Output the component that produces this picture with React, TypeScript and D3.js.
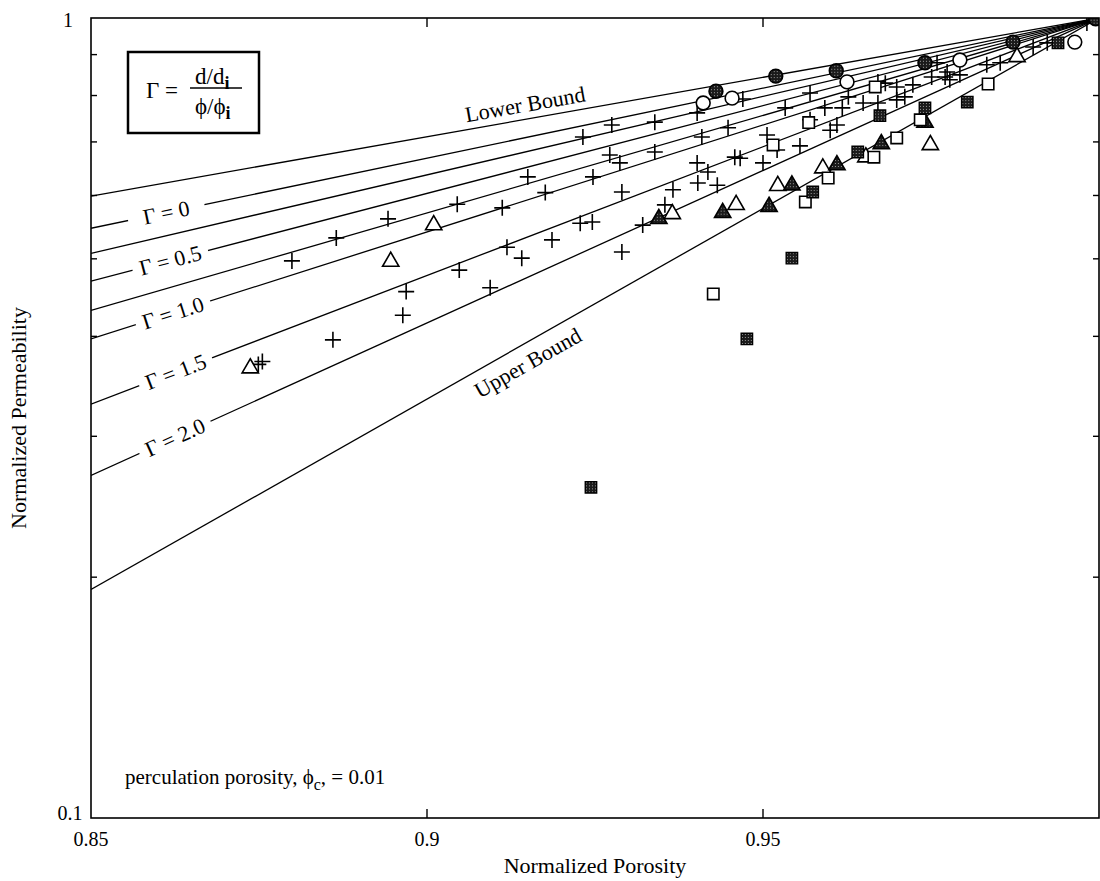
import * as d3 from "d3";

// axis ticks
const porosityTicks = [0.85, 0.9, 0.95];
const permMinorTicks = [0.2, 0.3, 0.4, 0.5, 0.6, 0.7, 0.8, 0.9];

// model lines: value at porosity 0.85, all meeting at (1, 1)
const curveNames = ["Lower Bound", "Γ = 0", "", "Γ = 0.5", "", "Γ = 1.0", "Γ = 1.5", "Γ = 2.0", "Upper Bound"];
const curveStartK = [0.599, 0.546, 0.508, 0.469, 0.431, 0.397, 0.329, 0.268, 0.193];
const gammaLabelPhi = [0, 0.8612, 0, 0.8618, 0, 0.8622, 0.8626, 0.8625, 0];

// measured points [porosity, permeability]
const plusPts: [number, number][] = [
  [0.8749, 0.369], [0.8799, 0.497], [0.886, 0.396], [0.8865, 0.531], [0.8942, 0.561],
  [0.8969, 0.455], [0.8964, 0.425], [0.9045, 0.585], [0.9048, 0.484], [0.9094, 0.46],
  [0.9112, 0.579], [0.9119, 0.517], [0.9141, 0.501], [0.915, 0.633], [0.9176, 0.605],
  [0.9186, 0.528], [0.9228, 0.554], [0.9246, 0.556], [0.9232, 0.71], [0.9247, 0.633],
  [0.9272, 0.674], [0.9275, 0.735], [0.9287, 0.659], [0.929, 0.606], [0.929, 0.51],
  [0.9321, 0.551], [0.9339, 0.741], [0.9339, 0.68], [0.9354, 0.584], [0.9366, 0.61],
  [0.9402, 0.761], [0.9402, 0.659], [0.9403, 0.622], [0.9409, 0.71], [0.9418, 0.642],
  [0.9432, 0.618], [0.9448, 0.729], [0.9458, 0.67], [0.947, 0.792], [0.9466, 0.668],
  [0.95, 0.659], [0.9506, 0.714], [0.9521, 0.684], [0.9533, 0.772], [0.9555, 0.692],
  [0.957, 0.806], [0.957, 0.746], [0.9592, 0.772], [0.96, 0.724], [0.961, 0.735],
  [0.9618, 0.772], [0.9627, 0.797], [0.9649, 0.783], [0.9671, 0.832], [0.9671, 0.783],
  [0.9682, 0.829], [0.9699, 0.82], [0.9699, 0.79], [0.9711, 0.797], [0.9723, 0.825],
  [0.9751, 0.844], [0.9759, 0.879], [0.9771, 0.844], [0.9774, 0.856], [0.9778, 0.837],
  [0.9793, 0.849], [0.9833, 0.874], [0.9853, 0.879], [0.9902, 0.92], [0.9923, 0.931],
  [0.9982, 0.986], [0.8755, 0.372],
];
const circleOpen: [number, number][] = [
  [0.9411, 0.783], [0.9454, 0.794], [0.9625, 0.832], [0.9793, 0.886], [0.9964, 0.933],
];
const circleFilled: [number, number][] = [
  [0.943, 0.81], [0.9519, 0.846], [0.9609, 0.859], [0.9741, 0.879], [0.9872, 0.933], [0.9995, 0.998],
];
const triOpen: [number, number][] = [
  [0.8737, 0.365], [0.8946, 0.496], [0.901, 0.551], [0.9365, 0.569], [0.946, 0.584],
  [0.9522, 0.617], [0.9589, 0.649], [0.9653, 0.67], [0.9749, 0.694], [0.9878, 0.894],
];
const triFilled: [number, number][] = [
  [0.9345, 0.561], [0.944, 0.571], [0.9509, 0.581], [0.9543, 0.618], [0.961, 0.655],
  [0.9676, 0.696], [0.9741, 0.74],
];
const squareOpen: [number, number][] = [
  [0.9426, 0.452], [0.9563, 0.589], [0.9568, 0.74], [0.9515, 0.694], [0.9597, 0.631],
  [0.9665, 0.67], [0.9667, 0.82], [0.9699, 0.708], [0.9734, 0.746], [0.9835, 0.827],
];
const squareFilled: [number, number][] = [
  [0.9244, 0.259], [0.9476, 0.397], [0.9543, 0.501], [0.9574, 0.606], [0.9641, 0.68],
  [0.9674, 0.755], [0.9741, 0.772], [0.9804, 0.785], [0.9939, 0.931],
];

const W = 1100;
const H = 881;
const FONT = "'Liberation Serif', 'Times New Roman', serif";

export default function App() {
  const x = d3.scaleLinear().domain([0.85, 1.0]).range([91, 1099]);
  const y = d3.scaleLog().domain([0.1, 1]).range([818, 18]);
  const [x0, x1] = x.range();
  const [yb, yt] = y.range();

  const tri = d3.symbol(d3.symbolTriangle, 115)()!;
  const circ = d3.symbol(d3.symbolCircle, 150)()!;
  const sq = d3.symbol(d3.symbolSquare, 130)()!;
  const plus = "M-8,0H8M0,-8V8";

  const curves = curveStartK.map((k0, i) => {
    const ya = y(k0);
    const ye = y(1);
    const ang = (Math.atan2(ye - ya, x1 - x0) * 180) / Math.PI;
    return { i, ya, ye, ang };
  });
  const onLine = (c: { ya: number; ye: number }, px: number) =>
    c.ya + ((px - x0) / (x1 - x0)) * (c.ye - c.ya);

  const lower = curves[0];
  const upper = curves[curves.length - 1];
  const lowerX = x(0.9146);
  const upperX = x(0.915);

  const marks = (pts: [number, number][], d: string, fill: string, sw: number, key: string) =>
    pts.map((p, i) => (
      <path
        key={key + i}
        d={d}
        transform={`translate(${x(p[0])},${y(p[1])})`}
        fill={fill}
        stroke="#000"
        strokeWidth={sw}
      />
    ));

  return (
    <svg
      width={W}
      height={H}
      style={{ position: "absolute", left: 0, top: 0, background: "#fff" }}
      fontFamily={FONT}
    >
      <defs>
        <pattern id="hatch" width="3" height="3" patternUnits="userSpaceOnUse">
          <rect width="3" height="3" fill="#1a1a1a" />
          <rect x="1" y="1" width="1" height="1" fill="#9a9a9a" />
        </pattern>
        <clipPath id="plot">
          <rect x={x0} y={yt} width={x1 - x0} height={yb - yt} />
        </clipPath>
      </defs>

      {/* model lines */}
      <g clipPath="url(#plot)">
        {curves.map((c) => (
          <line key={c.i} x1={x0} y1={c.ya} x2={x1} y2={c.ye} stroke="#000" strokeWidth={1.3} />
        ))}
      </g>

      {/* gamma labels sitting on their lines */}
      {curves.map((c) => {
        const phi = gammaLabelPhi[c.i];
        if (!phi) return null;
        const px = x(phi);
        const py = onLine(c, px);
        return (
          <g key={"gl" + c.i} transform={`translate(${px},${py}) rotate(${c.ang})`}>
            <rect x={-39} y={-9} width={78} height={18} fill="#fff" />
            <text textAnchor="middle" dominantBaseline="central" fontSize={22}>
              {curveNames[c.i]}
            </text>
          </g>
        );
      })}

      <text
        transform={`translate(${lowerX},${onLine(lower, lowerX) - 15}) rotate(${lower.ang})`}
        textAnchor="middle"
        dominantBaseline="central"
        fontSize={22}
      >
        {curveNames[0]}
      </text>
      <text
        transform={`translate(${upperX},${onLine(upper, upperX) + 21}) rotate(${upper.ang})`}
        textAnchor="middle"
        dominantBaseline="central"
        fontSize={22}
      >
        {curveNames[curveNames.length - 1]}
      </text>

      {/* data points */}
      <g clipPath="url(#plot)">
        {marks(plusPts, plus, "none", 1.6, "p")}
        {marks(triOpen, tri, "#fff", 1.6, "to")}
        {marks(triFilled, tri, "url(#hatch)", 1.6, "tf")}
        {marks(squareOpen, sq, "#fff", 1.6, "so")}
        {marks(squareFilled, sq, "url(#hatch)", 1.4, "sf")}
        {marks(circleOpen, circ, "#fff", 1.6, "co")}
        {marks(circleFilled, circ, "url(#hatch)", 1.6, "cf")}
      </g>

      {/* frame */}
      <rect x={x0} y={yt} width={x1 - x0} height={yb - yt} fill="none" stroke="#000" strokeWidth={1.6} />

      {/* x ticks */}
      {porosityTicks.map((t) => (
        <g key={"xt" + t}>
          {t > 0.85 && (
            <>
              <line x1={x(t)} x2={x(t)} y1={yb} y2={yb - 9} stroke="#000" strokeWidth={1.4} />
              <line x1={x(t)} x2={x(t)} y1={yt} y2={yt + 9} stroke="#000" strokeWidth={1.4} />
            </>
          )}
          <text x={x(t)} y={846} textAnchor="middle" fontSize={20}>
            {t === 0.85 ? "0.85" : d3.format("")(t)}
          </text>
        </g>
      ))}

      {/* y ticks */}
      {permMinorTicks.map((t) => (
        <g key={"yt" + t}>
          <line x1={x0} x2={x0 + 6} y1={y(t)} y2={y(t)} stroke="#000" strokeWidth={1.4} />
          <line x1={x1} x2={x1 - 6} y1={y(t)} y2={y(t)} stroke="#000" strokeWidth={1.4} />
        </g>
      ))}
      <text x={68} y={y(1) + 2} textAnchor="middle" dominantBaseline="central" fontSize={20}>
        1
      </text>
      <text x={70} y={y(0.1) - 5} textAnchor="middle" dominantBaseline="central" fontSize={20}>
        0.1
      </text>

      {/* axis titles */}
      <text x={(x0 + x1) / 2} y={873} textAnchor="middle" fontSize={22}>
        Normalized Porosity
      </text>
      <text
        transform={`translate(18,${(yt + yb) / 2}) rotate(-90)`}
        textAnchor="middle"
        dominantBaseline="central"
        fontSize={22}
      >
        Normalized Permeability
      </text>

      {/* definition box */}
      <rect x={128} y={52} width={131} height={81} fill="#fff" stroke="#000" strokeWidth={2.5} />
      <text x={146} y={98} fontSize={23}>
        Γ =
      </text>
      <line x1={190} x2={242} y1={88} y2={88} stroke="#000" strokeWidth={1.5} />
      <text x={195} y={84} fontSize={23}>
        d/d
        <tspan dy={5} fontSize={18} fontWeight="bold">
          i
        </tspan>
      </text>
      <text x={195} y={114} fontSize={23}>
        ϕ/ϕ
        <tspan dy={5} fontSize={18} fontWeight="bold">
          i
        </tspan>
      </text>

      {/* note */}
      <text x={125} y={784} fontSize={21}>
        perculation porosity, ϕ
        <tspan dy={6} fontSize={16}>
          c
        </tspan>
        <tspan dy={-6}>, = 0.01</tspan>
      </text>
    </svg>
  );
}
